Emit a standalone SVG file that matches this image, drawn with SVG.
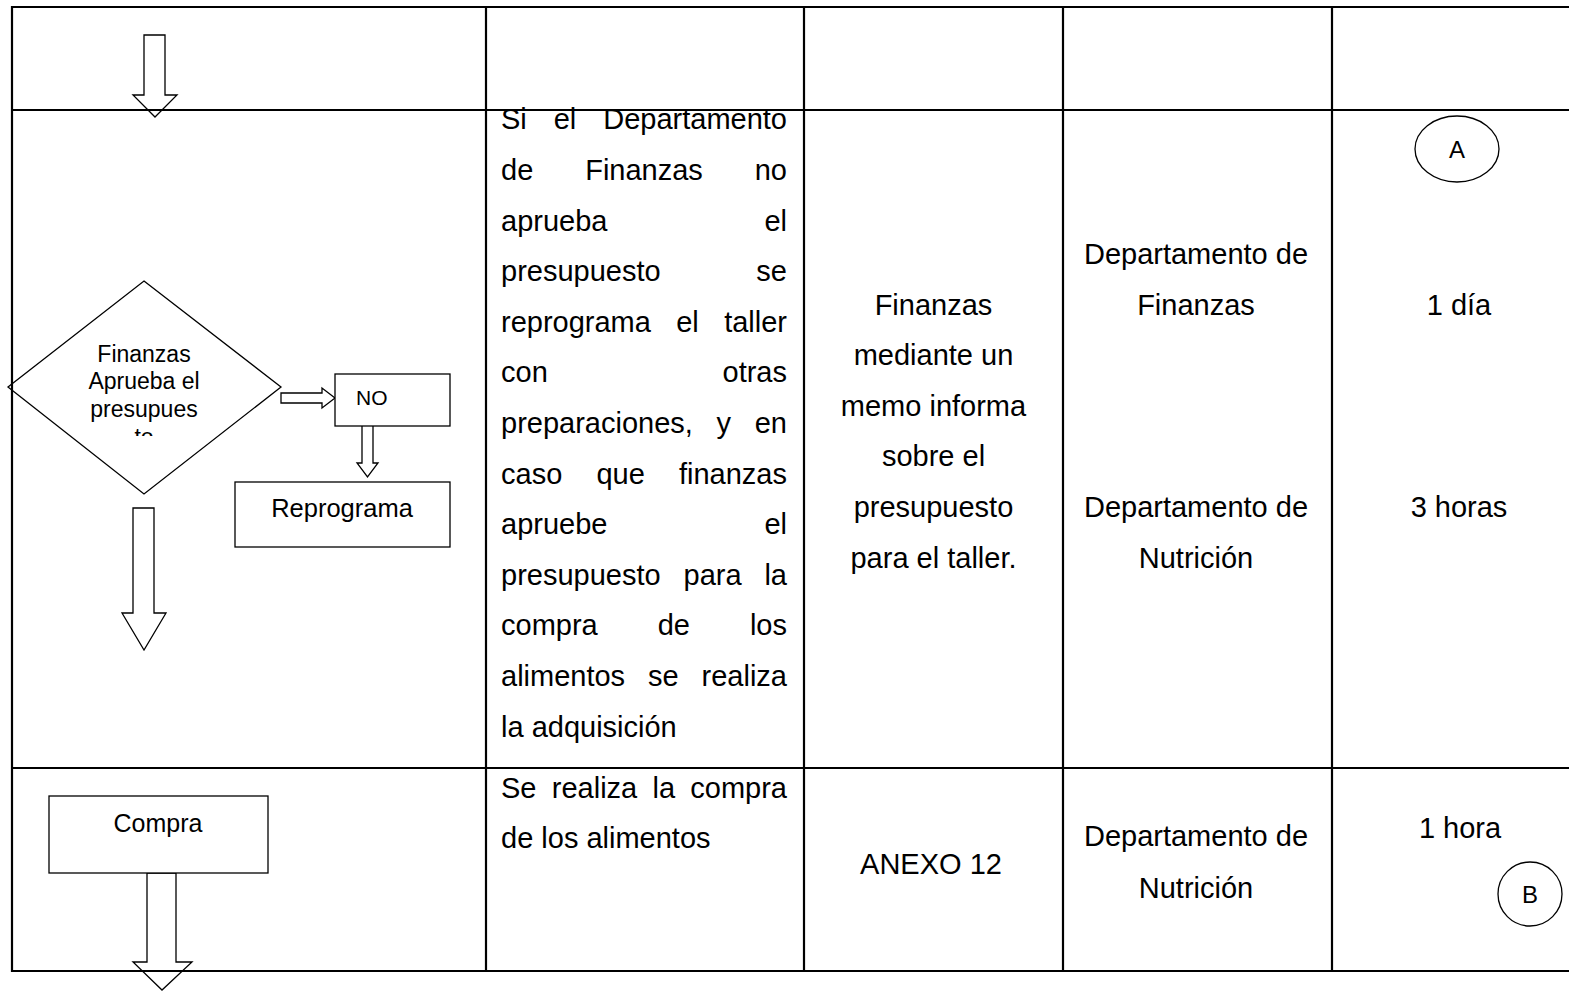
<svg xmlns="http://www.w3.org/2000/svg" width="1569" height="991" viewBox="0 0 1569 991">
<style>
.grid{stroke:#000;stroke-width:2.2;fill:none}
.shape{stroke:#000;stroke-width:1.3;fill:#fff}
.t{font-family:"Liberation Sans",Arial,sans-serif;font-size:29px;fill:#000}
.s{font-family:"Liberation Sans",Arial,sans-serif;fill:#000}
.m{text-anchor:middle}
.e{text-anchor:end}
</style>
<defs>
<clipPath id="dclip"><rect x="40" y="330" width="210" height="106"/></clipPath>
</defs>
<rect width="1569" height="991" fill="#fff"/>

<g id="connectors">
<polygon class="shape" points="144,35 165,35 165,95 177,95 155,117 133,95 144,95"/>
<polygon class="shape" points="133,508 154,508 154,613 166,613 144,650 122,613 133,613"/>
<polygon class="shape" points="281,393 322,393 322,388 335,398 322,408 322,403 281,403"/>
<polygon class="shape" points="362,424 373,424 373,463 378,463 367.5,477 357,463 362,463"/>
<polygon class="shape" points="147,873 176,873 176,962 192,962 162,990 133,962 147,962"/>
</g>

<g id="decision">
<polygon class="shape" points="144,281 281,387 144,494 8,387"/>
<g clip-path="url(#dclip)">
<text class="s m" font-size="23" x="144" y="362">Finanzas</text>
<text class="s m" font-size="23" x="144" y="389">Aprueba el</text>
<text class="s m" font-size="23" x="144" y="417">presupues</text>
<text class="s m" font-size="23" x="144" y="445">to</text>
</g>
</g>

<g id="no">
<rect class="shape" x="335" y="374" width="115" height="52"/>
<text class="s" font-size="21" x="356" y="405">NO</text>
</g>

<g id="reprograma">
<rect class="shape" x="235" y="482" width="215" height="65"/>
<text class="s m" font-size="25.5" x="342" y="517">Reprograma</text>
</g>

<g id="compra">
<rect class="shape" x="49" y="796" width="219" height="77"/>
<text class="s m" font-size="25" x="158" y="832">Compra</text>
</g>

<g id="connA">
<ellipse class="shape" cx="1457" cy="149" rx="42" ry="33"/>
<text class="s m" font-size="24" x="1457" y="158">A</text>
</g>

<g id="connB">
<circle class="shape" cx="1530" cy="894" r="32"/>
<text class="s m" font-size="24" x="1530" y="903">B</text>
</g>

<g id="desc1">
<text class="t" x="501" y="129">Si</text><text class="t" x="553.7" y="129">el</text><text class="t e" x="787" y="129">Departamento</text>
<text class="t" x="501" y="180">de</text><text class="t" x="585.2" y="180">Finanzas</text><text class="t e" x="787" y="180">no</text>
<text class="t" x="501" y="230.5">aprueba</text><text class="t e" x="787" y="230.5">el</text>
<text class="t" x="501" y="281">presupuesto</text><text class="t e" x="787" y="281">se</text>
<text class="t" x="501" y="331.7">reprograma</text><text class="t" x="676.2" y="331.7">el</text><text class="t e" x="787" y="331.7">taller</text>
<text class="t" x="501" y="382.3">con</text><text class="t e" x="787" y="382.3">otras</text>
<text class="t" x="501" y="433">preparaciones,</text><text class="t" x="716.5" y="433">y</text><text class="t e" x="787" y="433">en</text>
<text class="t" x="501" y="483.5">caso</text><text class="t" x="596.4" y="483.5">que</text><text class="t e" x="787" y="483.5">finanzas</text>
<text class="t" x="501" y="534">apruebe</text><text class="t e" x="787" y="534">el</text>
<text class="t" x="501" y="584.7">presupuesto</text><text class="t" x="683.5" y="584.7">para</text><text class="t e" x="787" y="584.7">la</text>
<text class="t" x="501" y="635.3">compra</text><text class="t" x="657.7" y="635.3">de</text><text class="t e" x="787" y="635.3">los</text>
<text class="t" x="501" y="686">alimentos</text><text class="t" x="648" y="686">se</text><text class="t e" x="787" y="686">realiza</text>
<text class="t" x="501" y="736.5">la adquisición</text>
</g>

<g id="doc1">
<text class="t m" x="933.5" y="314.5">Finanzas</text>
<text class="t m" x="933.5" y="365">mediante un</text>
<text class="t m" x="933.5" y="415.6">memo informa</text>
<text class="t m" x="933.5" y="466.2">sobre el</text>
<text class="t m" x="933.5" y="516.8">presupuesto</text>
<text class="t m" x="933.5" y="567.5">para el taller.</text>
</g>

<g id="resp1">
<text class="t m" x="1196" y="264">Departamento de</text>
<text class="t m" x="1196" y="315">Finanzas</text>
<text class="t m" x="1196" y="516.7">Departamento de</text>
<text class="t m" x="1196" y="567.7">Nutrición</text>
</g>

<g id="time1">
<text class="t m" x="1459" y="315">1 día</text>
<text class="t m" x="1459" y="516.7">3 horas</text>
</g>

<g id="desc2">
<text class="t" x="501" y="797.5">Se</text><text class="t" x="551.8" y="797.5">realiza</text><text class="t" x="652.5" y="797.5">la</text><text class="t e" x="787" y="797.5">compra</text>
<text class="t" x="501" y="847.5">de los alimentos</text>
</g>

<g id="doc2">
<text class="t m" x="931" y="874">ANEXO 12</text>
</g>

<g id="resp2">
<text class="t m" x="1196" y="846">Departamento de</text>
<text class="t m" x="1196" y="898">Nutrición</text>
</g>

<g id="time2">
<text class="t m" x="1460" y="838">1 hora</text>
</g>

<g id="table">
<line class="grid" x1="12" y1="7" x2="1569" y2="7"/>
<line class="grid" x1="12" y1="110" x2="1569" y2="110"/>
<line class="grid" x1="12" y1="768" x2="1569" y2="768"/>
<line class="grid" x1="12" y1="971" x2="1569" y2="971"/>
<line class="grid" x1="12" y1="6" x2="12" y2="972"/>
<line class="grid" x1="486" y1="6" x2="486" y2="972"/>
<line class="grid" x1="804" y1="6" x2="804" y2="972"/>
<line class="grid" x1="1063" y1="6" x2="1063" y2="972"/>
<line class="grid" x1="1332" y1="6" x2="1332" y2="972"/>
</g>
</svg>
